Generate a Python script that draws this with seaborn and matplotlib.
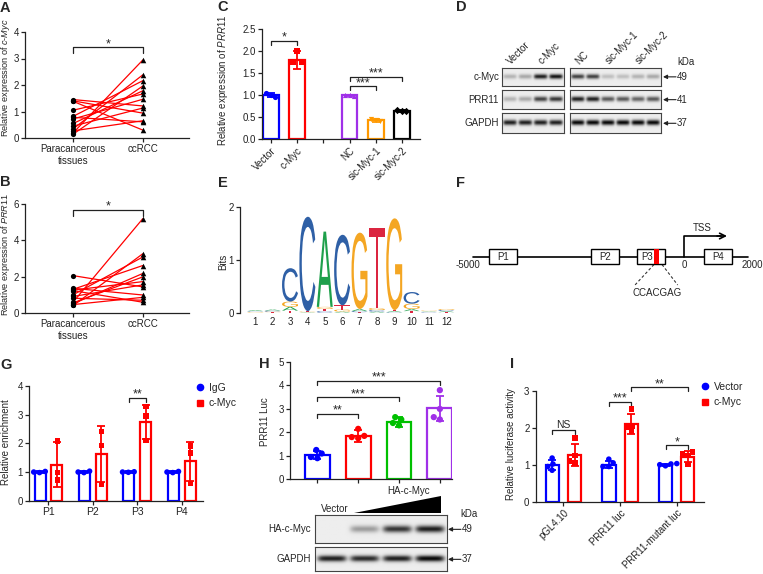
import numpy as np
import pandas as pd
import seaborn as sns
import matplotlib.pyplot as plt
import matplotlib.transforms as mtransforms
from matplotlib.textpath import TextPath
from matplotlib.patches import PathPatch, Rectangle, Polygon
from matplotlib.font_manager import FontProperties
from matplotlib.lines import Line2D

# ---------------- data ----------------
# A: c-Myc, paired tissues
a_para = [1.45, 1.40, 1.38, 1.05, 0.82, 0.78, 0.72, 0.55, 0.45, 0.35, 0.27, 0.20, 0.15]
a_cc = [1.21, 0.94, 0.30, 1.66, 2.16, 0.61, 1.46, 1.78, 1.13, 2.38, 0.65, 2.94, 1.96]
# B: PRR11, paired tissues
b_para = [2.05, 1.35, 1.30, 1.25, 1.22, 1.00, 0.90, 0.80, 0.60, 0.55, 0.50, 0.45, 0.40]
b_cc = [1.43, 0.98, 2.61, 1.72, 0.58, 3.08, 1.54, 0.69, 5.20, 1.98, 2.17, 0.85, 3.26]
tissue_labels = ['Paracancerous\ntissues', 'ccRCC']

# C: PRR11 qPCR
c_names = ['Vector', 'c-Myc', 'NC', 'sic-Myc-1', 'sic-Myc-2']
c_mean = [1.0, 1.8, 1.0, 0.43, 0.65]
c_sd = [0.05, 0.21, 0.015, 0.04, 0.02]
c_points = [[1.05, 1.0, 0.97], [1.76, 2.0, 1.75], [1.0, 1.0, 0.99], [0.47, 0.43, 0.42], [0.66, 0.65, 0.64]]

# D: western blot band intensities
d_left_lanes = ['Vector', 'c-Myc']
d_right_lanes = ['NC', 'sic-Myc-1', 'sic-Myc-2']
d_rows = ['c-Myc', 'PRR11', 'GAPDH']
d_kda = ['49', '41', '37']
d_left = [[0.25, 0.3, 0.9, 0.95], [0.25, 0.3, 0.75, 0.8], [0.9, 0.9, 0.9, 0.9]]
d_right = [[0.75, 0.75, 0.2, 0.2, 0.25, 0.3], [0.9, 0.9, 0.65, 0.65, 0.6, 0.65], [1, 1, 1, 1, 1, 1]]

# E: motif logo, letters bottom-to-top with heights in bits
logo_letters = [['G', 'T', 'C', 'A'], ['T', 'G', 'C', 'A'], ['T', 'A', 'G', 'C'], ['A', 'G', 'T', 'C'],
                ['C', 'T', 'G', 'A'], ['A', 'G', 'T', 'C'], ['T', 'C', 'A', 'G'], ['A', 'C', 'G', 'T'],
                ['C', 'A', 'T', 'G'], ['T', 'A', 'G', 'C'], ['C', 'T', 'A', 'G'], ['T', 'A', 'C', 'G']]
logo_heights = [[0.01, 0.01, 0.01, 0.02], [0.01, 0.01, 0.02, 0.02], [0.04, 0.07, 0.10, 0.63], [0.01, 0.01, 0.01, 1.78],
                [0.03, 0.04, 0.04, 1.42], [0.02, 0.04, 0.08, 1.33], [0.01, 0.02, 0.04, 1.44], [0.02, 0.03, 0.04, 1.50],
                [0.01, 0.02, 0.02, 1.73], [0.03, 0.04, 0.10, 0.22], [0.01, 0.01, 0.01, 0.01], [0.01, 0.02, 0.02, 0.02]]
logo_colors = {'A': '#1ea04b', 'C': '#2f60a6', 'G': '#f4a623', 'T': '#db2540'}

# F: promoter schematic (schematic units)
f_regions = ['P1', 'P2', 'P3', 'P4']
f_start = [34.3, 135.7, 182.3, 249.3]
f_end = [62.3, 163.7, 210.0, 277.3]
f_site = (199.0, 204.3)
f_ends = ['-5000', '0', '2000']

# G: ChIP enrichment
g_regions = ['P1', 'P2', 'P3', 'P4']
g_igg_mean = [1.0, 1.0, 1.0, 1.0]
g_igg_sd = [0.03, 0.03, 0.02, 0.03]
g_myc_mean = [1.25, 1.62, 2.75, 1.38]
g_myc_sd = [0.78, 0.98, 0.60, 0.68]
g_igg_pts = [[1.02, 1.0, 0.98], [1.03, 1.0, 0.98], [1.01, 1.0, 0.99], [1.02, 1.0, 0.98]]
g_myc_pts = [[2.08, 0.98, 0.72], [2.42, 1.93, 0.57], [3.28, 2.95, 2.10], [1.90, 1.67, 0.60]]

# H: PRR11 luciferase with HA-c-Myc dose
h_names = ['Vector', 'HA-c-Myc low', 'HA-c-Myc mid', 'HA-c-Myc high']
h_mean = [1.03, 1.85, 2.45, 3.02]
h_sd = [0.17, 0.25, 0.21, 0.53]
h_points = [[1.25, 1.1, 0.95, 0.9], [2.15, 1.85, 1.8, 1.75], [2.65, 2.55, 2.4, 2.3], [3.8, 3.0, 2.65, 2.55]]
h_blot_myc = [0.0, 0.35, 0.8, 0.9]
h_blot_gapdh = [0.9, 0.85, 0.9, 1.0]

# I: luciferase reporters
i_groups = ['pGL4.10', 'PRR11 luc', 'PRR11-mutant luc']
i_vec_mean = [1.0, 1.0, 1.0]
i_vec_sd = [0.13, 0.10, 0.03]
i_myc_mean = [1.27, 2.10, 1.22]
i_myc_sd = [0.30, 0.28, 0.15]
i_vec_pts = [[1.18, 1.02, 0.95, 0.85], [1.15, 1.05, 0.95, 0.95], [1.03, 1.02, 1.0, 0.97]]
i_myc_pts = [[1.72, 1.25, 1.1, 1.05], [2.5, 2.05, 2.0, 1.9], [1.35, 1.3, 1.25, 1.0]]

# ---------------- style ----------------
sns.set_style('ticks')
plt.rcParams['font.family'] = ['Liberation Sans', 'DejaVu Sans']
plt.rcParams['mathtext.fontset'] = 'custom'
plt.rcParams['mathtext.rm'] = 'Liberation Sans'
plt.rcParams['mathtext.it'] = 'Liberation Sans:italic'
plt.rcParams['font.size'] = 7
INK = '#222222'
BLUE, RED, PURPLE, ORANGE, GREEN = '#0000ff', '#ff0000', '#a030e8', '#ff9900', '#00c000'

W, H = 763, 574
fig = plt.figure(figsize=(W / 100, H / 100), dpi=100)
ov = fig.add_axes([0, 0, 1, 1])
ov.set_xlim(0, W)
ov.set_ylim(H, 0)
ov.axis('off')
ov.set_zorder(10)


def add_px(x0, y0, x1, y1):
    return fig.add_axes([x0 / W, 1 - y1 / H, (x1 - x0) / W, (y1 - y0) / H])


def style(ax):
    sns.despine(ax=ax)
    for s in ['left', 'bottom']:
        ax.spines[s].set_linewidth(0.9)
        ax.spines[s].set_color(INK)
    ax.tick_params(length=3, width=0.9, labelsize=7, pad=1.5, colors=INK)
    ax.set_xlabel('')


def ylab(ax, text, x, y, fs=7):
    ax.set_ylabel(text, fontsize=fs)
    ax.yaxis.set_label_coords(x, y, transform=ov.transData)
    ax.yaxis.label.set_va('center')


def bracket(ax, x1, x2, y, leg, label):
    ax.plot([x1, x1, x2, x2], [y - leg, y, y, y - leg], color=INK, lw=0.9, clip_on=False)
    if label == 'NS':
        ax.text((x1 + x2) / 2, y, label, ha='center', va='bottom', fontsize=7.5)
    else:
        ax.text((x1 + x2) / 2, y, label, ha='center', va='baseline', fontsize=9)


def errbars(ax, xs, means, sds, colors):
    for x, m, s, c in zip(xs, means, sds, colors):
        ax.errorbar(x, m, yerr=s, fmt='none', ecolor=c, elinewidth=1.3, capsize=3, capthick=1.3, zorder=4)


def blot(x0, y0, x1, y1, vals):
    ax = add_px(x0, y0, x1, y1)
    n = len(vals)
    X, Y = np.meshgrid(np.linspace(0, n, n * 24), np.linspace(0, 1, 30))
    dens = np.zeros_like(X)
    for i, v in enumerate(vals):
        dens += v * np.exp(-((X - i - 0.5) / 0.44) ** 6) * np.exp(-((Y - 0.5) / 0.13) ** 2)
    ax.imshow(0.93 - 0.9 * np.clip(dens, 0, 1), cmap='gray', vmin=0, vmax=1,
              extent=(0, n, 0, 1), aspect='auto', interpolation='bilinear')
    ax.set_xticks([])
    ax.set_yticks([])
    for s in ax.spines.values():
        s.set_linewidth(0.8)
        s.set_color('#444444')
    return ax


def kda_arrow(x_head, x_tail, y, label):
    ov.annotate('', xy=(x_head, y), xytext=(x_tail, y),
                arrowprops=dict(arrowstyle='-|>', color=INK, lw=0.8, shrinkA=0, shrinkB=0, mutation_scale=6))
    ov.text(x_tail + 0.5, y, label, ha='left', va='center', fontsize=7)


# ---------------- A & B ----------------
def paired(ax, para, cc, ymax, step, ybr, leg):
    n = len(para)
    df = pd.DataFrame({'pair': list(range(n)) * 2, 'x': [0] * n + [1] * n, 'y': para + cc})
    sns.lineplot(data=df, x='x', y='y', units='pair', estimator=None, color=RED, lw=0.9, ax=ax)
    sns.scatterplot(x=[0] * n, y=para, color='black', marker='o', s=14, linewidth=0, ax=ax, zorder=3)
    sns.scatterplot(x=[1] * n, y=cc, color='black', marker='^', s=16, linewidth=0, ax=ax, zorder=3)
    ax.set_xlim(-0.696, 1.667)
    ax.set_ylim(0, ymax)
    ax.set_yticks(np.arange(0, ymax + 0.1, step))
    ax.set_xticks([0, 1], labels=tissue_labels)
    style(ax)
    bracket(ax, 0, 1, ybr, leg, '*')


axA = add_px(25, 32, 189, 138)
paired(axA, a_para, a_cc, 4, 1, 3.43, 0.23)
ylab(axA, r'Relative expression of $\mathit{c}$-$\mathit{Myc}$', 6, 78, fs=6.6)

axB = add_px(25, 204.3, 189, 312.7)
paired(axB, b_para, b_cc, 6, 2, 5.7, 0.33)
ylab(axB, r'Relative expression of $\mathit{PRR11}$', 6, 254, fs=6.6)

# ---------------- C ----------------
axC = add_px(262, 29.3, 420, 139.3)
c_colors = [BLUE, RED, PURPLE, ORANGE, 'black']
c_pos = [0, 1, 3, 4, 5]
dfc = pd.DataFrame({'pos': c_pos, 'mean': c_mean, 'name': c_names})
sns.barplot(data=dfc, x='pos', y='mean', hue='name', palette=dict(zip(c_names, c_colors)),
            native_scale=True, dodge=False, fill=False, errorbar=None, width=0.6,
            linewidth=1.6, legend=False, ax=axC)
errbars(axC, c_pos, c_mean, c_sd, c_colors)
for p, pts, col, mk in zip(c_pos, c_points, c_colors, ['o', 's', '^', 'v', 'D']):
    axC.scatter(np.array([-0.17, 0, 0.17]) + p, pts, color=col, marker=mk, s=14, linewidths=0, zorder=5)
axC.set_xlim(-0.34, 5.69)
axC.set_ylim(0, 2.5)
axC.set_yticks(np.arange(0, 2.51, 0.5), labels=[f'{v:.1f}' for v in np.arange(0, 2.51, 0.5)])
axC.set_xticks(range(6), labels=['Vector', 'c-Myc', '', 'NC', 'sic-Myc-1', 'sic-Myc-2'])
style(axC)
plt.setp(axC.get_xticklabels(), rotation=45, ha='right', rotation_mode='anchor')
bracket(axC, 0, 1, 2.24, 0.1, '*')
bracket(axC, 3, 4, 1.21, 0.1, '***')
bracket(axC, 3, 5, 1.42, 0.1, '***')
ylab(axC, r'Relative expression of $\mathit{PRR11}$', 223.5, 80)

# ---------------- D ----------------
row_y = [(67.7, 86), (90, 109.3), (113.3, 133.3)]
lx0, lx1, rx0, rx1 = 502, 564, 570, 661
for (y0, y1), lv, rv, name, kda in zip(row_y, d_left, d_right, d_rows, d_kda):
    blot(lx0, y0, lx1, y1, lv)
    blot(rx0, y0, rx1, y1, rv)
    ov.text(499, (y0 + y1) / 2, name, ha='right', va='center', fontsize=7)
    kda_arrow(663, 676, (y0 + y1) / 2, kda)
ov.text(677, 62, 'kDa', ha='left', va='center', fontsize=7)
lw_l = (lx1 - lx0) / len(d_left[0])
lw_r = (rx1 - rx0) / len(d_right[0])
for k, name in enumerate(d_left_lanes):
    ov.text(lx0 + (2 * k + 1) * lw_l - 5, 66, name, rotation=45, ha='left', va='bottom',
            rotation_mode='anchor', fontsize=7)
for k, name in enumerate(d_right_lanes):
    ov.text(rx0 + (2 * k + 1) * lw_r - 5, 66, name, rotation=45, ha='left', va='bottom',
            rotation_mode='anchor', fontsize=7)

# ---------------- E ----------------
axE = add_px(240, 206.7, 455, 312.7)
fp = FontProperties(family='Liberation Sans')
for i, (lets, hts) in enumerate(zip(logo_letters, logo_heights)):
    base = 0.0
    for ch, h in zip(lets, hts):
        tp = TextPath((0, 0), ch, size=1, prop=fp)
        bb = tp.get_extents()
        tr = (mtransforms.Affine2D().translate(-bb.x0, -bb.y0)
              .scale(0.92 / bb.width, h / bb.height).translate(i + 1 - 0.46, base))
        axE.add_patch(PathPatch(tr.transform_path(tp), facecolor=logo_colors[ch], edgecolor='none'))
        base += h
axE.set_xlim(0.12, 12.5)
axE.set_ylim(0, 2)
axE.set_yticks([0, 1, 2])
axE.set_xticks(range(1, 13))
style(axE)
axE.spines['bottom'].set_visible(False)
axE.tick_params(axis='x', length=0, pad=3)
ylab(axE, 'Bits', 223.5, 261.7)

# ---------------- F ----------------
axF = add_px(455, 215, 763, 300)
axF.set_xlim(0, 308)
axF.set_ylim(85, 0)
axF.axis('off')
axF.plot([17.7, 293.3], [41.7, 41.7], color='black', lw=1.2)
for name, s, e in zip(f_regions, f_start, f_end):
    axF.add_patch(Rectangle((s, 34.3), e - s, 14.7, facecolor='white', edgecolor='black', lw=1, zorder=3))
    axF.text((s + e) / 2 - (4 if name == 'P3' else 0), 41.7, name, ha='center', va='center', fontsize=7, zorder=4)
axF.add_patch(Rectangle((f_site[0], 34.3), f_site[1] - f_site[0], 14.7, facecolor=RED, edgecolor='none', zorder=4))
axF.plot([229, 229, 266], [41.7, 21, 21], color='black', lw=1.2)
axF.annotate('', xy=(272, 21), xytext=(262, 21),
             arrowprops=dict(arrowstyle='->', color='black', lw=1.2, shrinkA=0, shrinkB=0, mutation_scale=10))
axF.text(247, 13, 'TSS', ha='center', va='center', fontsize=7)
for x, lab in zip([13, 229, 297], f_ends):
    axF.text(x, 50, lab, ha='center', va='center', fontsize=7)
axF.plot([199, 180], [49.5, 70], color='#333333', lw=0.8, ls=(0, (2.5, 2)))
axF.plot([207, 222.7], [49.5, 70], color='#333333', lw=0.8, ls=(0, (2.5, 2)))
axF.text(201.7, 77.7, 'CCACGAG', ha='center', va='center', fontsize=7)

# ---------------- G ----------------
axG = add_px(29.3, 386, 203, 500.7)
g_pal = {'IgG': BLUE, 'c-Myc': RED}
dfg = pd.DataFrame({'region': g_regions * 2, 'group': ['IgG'] * 4 + ['c-Myc'] * 4,
                    'mean': g_igg_mean + g_myc_mean})
sns.barplot(data=dfg, x='region', y='mean', hue='group', order=g_regions, hue_order=['IgG', 'c-Myc'],
            palette=g_pal, fill=False, errorbar=None, width=0.75, gap=0.34, linewidth=1.6,
            legend=False, ax=axG)
off = 0.75 / 4
errbars(axG, np.arange(4) - off, g_igg_mean, g_igg_sd, [BLUE] * 4)
errbars(axG, np.arange(4) + off, g_myc_mean, g_myc_sd, [RED] * 4)
for grp, pts, mk in [('IgG', g_igg_pts, 'o'), ('c-Myc', g_myc_pts, 's')]:
    dpt = pd.DataFrame([(r, grp, v) for r, vals in zip(g_regions, pts) for v in vals],
                       columns=['region', 'group', 'val'])
    sns.swarmplot(data=dpt, x='region', y='val', hue='group', order=g_regions, hue_order=['IgG', 'c-Myc'],
                  palette=g_pal, dodge=True, marker=mk, size=4, linewidth=0, legend=False, ax=axG, zorder=5)
axG.set_xlim(-0.43, 3.48)
axG.set_ylim(0, 4)
axG.set_yticks(range(5))
axG.set_xticks(range(4), labels=g_regions)
style(axG)
axG.tick_params(axis='x', labelsize=7.5)
axG.set_ylabel('')
bracket(axG, 2 - off, 2 + off, 3.59, 0.14, '**')
ylab(axG, 'Relative enrichment', 6, 441.7)
hG = [Line2D([], [], ls='', marker='o', color=BLUE, ms=4.5), Line2D([], [], ls='', marker='s', color=RED, ms=4.5)]
axG.legend(hG, ['IgG', 'c-Myc'], loc='upper left', bbox_to_anchor=(196, 383), bbox_transform=ov.transData,
           frameon=False, fontsize=7.5, handlelength=0.8, handletextpad=0.4, borderpad=0, borderaxespad=0,
           labelspacing=0.5)

# ---------------- H ----------------
axH = add_px(290, 362, 451.7, 479.3)
h_colors = [BLUE, RED, GREEN, PURPLE]
h_pal = dict(zip(h_names, h_colors))
dfh = pd.DataFrame({'name': h_names, 'mean': h_mean})
sns.barplot(data=dfh, x='name', y='mean', hue='name', order=h_names, palette=h_pal, fill=False,
            errorbar=None, width=0.61, linewidth=1.6, legend=False, ax=axH)
errbars(axH, range(4), h_mean, h_sd, h_colors)
dph = pd.DataFrame([(n, v) for n, vals in zip(h_names, h_points) for v in vals], columns=['name', 'val'])
sns.swarmplot(data=dph, x='name', y='val', hue='name', order=h_names, palette=h_pal, size=4.5,
              linewidth=0, legend=False, ax=axH, zorder=5)
axH.set_xlim(-0.67, 3.29)
axH.set_ylim(0, 5)
axH.set_yticks(range(6))
axH.set_xticks(range(4), labels=['', '', '', ''])
style(axH)
axH.set_ylabel('')
bracket(axH, 0, 1, 2.8, 0.18, '**')
bracket(axH, 0, 2, 3.5, 0.18, '***')
bracket(axH, 0, 3, 4.2, 0.18, '***')
ylab(axH, 'PRR11 Luc', 265, 421.7)

ov.text(408.3, 491, 'HA-c-Myc', ha='center', va='center', fontsize=7)
ov.text(335, 509.3, 'Vector', ha='center', va='center', fontsize=7)
ov.add_patch(Polygon([(354, 512.7), (441, 512.7), (441, 496)], closed=True, facecolor='black', edgecolor='none'))
for (y0, y1), vals, name, kda in zip([(515, 542.7), (546.7, 571)], [h_blot_myc, h_blot_gapdh],
                                     ['HA-c-Myc', 'GAPDH'], ['49', '37']):
    blot(315, y0, 446.7, y1, vals)
    ov.text(310.7, (y0 + y1) / 2, name, ha='right', va='center', fontsize=7)
    kda_arrow(448, 461, (y0 + y1) / 2 + 0.5, kda)
ov.text(469.3, 514, 'kDa', ha='center', va='center', fontsize=7)

# ---------------- I ----------------
axI = add_px(535.7, 390.7, 704, 501.7)
i_pal = {'Vector': BLUE, 'c-Myc': RED}
dfi = pd.DataFrame({'construct': i_groups * 2, 'group': ['Vector'] * 3 + ['c-Myc'] * 3,
                    'mean': i_vec_mean + i_myc_mean})
sns.barplot(data=dfi, x='construct', y='mean', hue='group', order=i_groups, hue_order=['Vector', 'c-Myc'],
            palette=i_pal, fill=False, errorbar=None, width=0.78, gap=0.4, linewidth=1.6,
            legend=False, ax=axI)
offi = 0.78 / 4
errbars(axI, np.arange(3) - offi, i_vec_mean, i_vec_sd, [BLUE] * 3)
errbars(axI, np.arange(3) + offi, i_myc_mean, i_myc_sd, [RED] * 3)
for grp, pts, mk in [('Vector', i_vec_pts, 'o'), ('c-Myc', i_myc_pts, 's')]:
    dpt = pd.DataFrame([(r, grp, v) for r, vals in zip(i_groups, pts) for v in vals],
                       columns=['construct', 'group', 'val'])
    sns.swarmplot(data=dpt, x='construct', y='val', hue='group', order=i_groups, hue_order=['Vector', 'c-Myc'],
                  palette=i_pal, dodge=True, marker=mk, size=4, linewidth=0, legend=False, ax=axI, zorder=5)
axI.set_xlim(-0.49, 2.48)
axI.set_ylim(0, 3)
axI.set_yticks(range(4))
axI.set_xticks(range(3), labels=i_groups)
style(axI)
axI.set_ylabel('')
plt.setp(axI.get_xticklabels(), rotation=45, ha='right', rotation_mode='anchor')
bracket(axI, -offi, offi, 1.94, 0.11, 'NS')
bracket(axI, 1 - offi, 1 + offi, 2.7, 0.11, '***')
bracket(axI, 1 + offi, 2 + offi, 3.1, 0.11, '**')
bracket(axI, 2 - offi, 2 + offi, 1.53, 0.11, '*')
ylab(axI, 'Relative luciferase activity', 511.5, 444)
hI = [Line2D([], [], ls='', marker='o', color=BLUE, ms=4.5), Line2D([], [], ls='', marker='s', color=RED, ms=4.5)]
axI.legend(hI, ['Vector', 'c-Myc'], loc='upper left', bbox_to_anchor=(701, 382), bbox_transform=ov.transData,
           frameon=False, fontsize=7.5, handlelength=0.8, handletextpad=0.4, borderpad=0, borderaxespad=0,
           labelspacing=0.5)

# ---------------- panel letters ----------------
for lab, x, y in [('A', 0, 7.5), ('B', 0, 182), ('C', 217, 7), ('D', 456, 7), ('E', 218, 183),
                  ('F', 456, 183), ('G', 0, 365), ('H', 259, 364), ('I', 510, 363.5)]:
    ov.text(x, y, lab, fontsize=10.5, weight='bold', ha='left', va='center')

fig.savefig('out.png', dpi=100)
